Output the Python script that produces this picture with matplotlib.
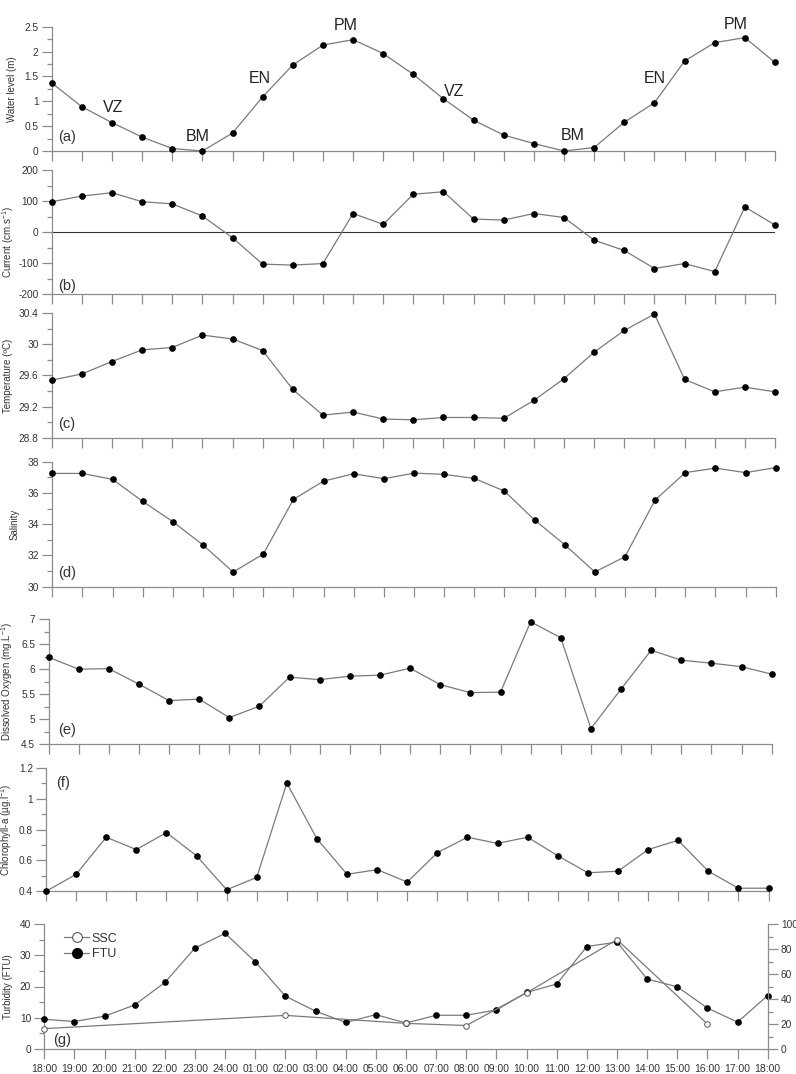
import matplotlib
matplotlib.use('Agg')
import matplotlib.pyplot as plt
from matplotlib.ticker import MultipleLocator, FuncFormatter
from matplotlib.lines import Line2D

hours = ['18:00', '19:00', '20:00', '21:00', '22:00', '23:00', '24:00', '01:00',
         '02:00', '03:00', '04:00', '05:00', '06:00', '07:00', '08:00', '09:00',
         '10:00', '11:00', '12:00', '13:00', '14:00', '15:00', '16:00', '17:00', '18:00']

water_level = [1.37, 0.89, 0.57, 0.28, 0.05, 0.0, 0.36, 1.09, 1.73, 2.13, 2.24, 1.96,
               1.54, 1.05, 0.62, 0.32, 0.15, 0.0, 0.07, 0.58, 0.97, 1.81, 2.18, 2.28, 1.78]
current = [98, 116, 127, 98, 91, 52, -18, -103, -106, -101, 60, 25,
           122, 130, 42, 39, 60, 47, -26, -59, -117, -101, -127, 81, 23]
temperature = [29.54, 29.62, 29.78, 29.93, 29.96, 30.12, 30.07, 29.92, 29.42, 29.09, 29.13, 29.04,
               29.03, 29.06, 29.06, 29.05, 29.28, 29.56, 29.90, 30.18, 30.39, 29.55, 29.39, 29.45, 29.39]
salinity = [37.25, 37.25, 36.87, 35.46, 34.16, 32.67, 30.94, 32.09, 35.59, 36.76, 37.23, 36.91,
            37.27, 37.19, 36.93, 36.12, 34.27, 32.69, 30.94, 31.92, 35.55, 37.30, 37.59, 37.30, 37.62]
oxygen = [6.24, 6.00, 6.01, 5.70, 5.37, 5.40, 5.03, 5.26, 5.84, 5.79, 5.86, 5.88,
          6.02, 5.69, 5.53, 5.54, 6.95, 6.63, 4.81, 5.60, 6.38, 6.18, 6.12, 6.05, 5.90]
chlorophyll = [0.40, 0.51, 0.75, 0.67, 0.78, 0.63, 0.41, 0.49, 1.10, 0.74, 0.51, 0.54,
               0.46, 0.65, 0.75, 0.71, 0.75, 0.63, 0.52, 0.53, 0.67, 0.73, 0.53, 0.42, 0.42]
ftu = [9.5, 8.8, 10.5, 14.1, 21.3, 32.3, 37.0, 27.9, 16.9, 12.1, 8.5, 11.0,
       8.3, 10.8, 10.8, 12.5, 18.1, 20.8, 32.8, 34.2, 22.4, 19.9, 13.1, 8.6, 17.1]
ssc_idx = [0, 8, 12, 14, 16, 19, 22]
ssc = [16.3, 26.9, 20.5, 18.8, 45.0, 87.5, 20.0]

tide_labels = ['VZ', 'BM', 'EN', 'PM', 'VZ', 'BM', 'EN', 'PM']
tide_label_x = [2.05, 4.85, 6.9, 9.75, 13.35, 17.3, 20.0, 22.7]
tide_label_y = [0.88, 0.30, 1.45, 2.52, 1.20, 0.32, 1.45, 2.54]

plt.rcParams['font.family'] = ['Liberation Sans', 'DejaVu Sans']
plt.rcParams['mathtext.default'] = 'regular'
plt.rcParams['axes.unicode_minus'] = False

W, H = 796, 1074
fig = plt.figure(figsize=(W / 100, H / 100), dpi=100)

AX_COL = '#8c8c8c'
LINE_COL = '#7a7a7a'
TXT_COL = '#333333'
x = list(range(len(hours)))


def panel(l, t, r, b, ylo, yhi, major, minor, ylabel, lab_right, lab_y, tag, tag_y):
    ax = fig.add_axes([l / W, 1 - b / H, (r - l) / W, (b - t) / H])
    for s in ['top', 'right']:
        ax.spines[s].set_visible(False)
    for s in ['left', 'bottom']:
        ax.spines[s].set_color(AX_COL)
        ax.spines[s].set_linewidth(0.9)
    ax.set_xlim(0, 24)
    ax.set_ylim(ylo, yhi)
    ax.set_xticks(x)
    ax.set_xticklabels([])
    ax.yaxis.set_major_locator(MultipleLocator(major))
    ax.yaxis.set_minor_locator(MultipleLocator(minor))
    ax.yaxis.set_major_formatter(FuncFormatter(lambda v, p: '%g' % round(v, 6)))
    ax.tick_params(axis='both', which='major', direction='out', length=7.5, width=0.9,
                   color=AX_COL, labelsize=7.3, labelcolor=TXT_COL, pad=2)
    ax.tick_params(axis='y', which='minor', direction='out', length=3.8, width=0.9, color=AX_COL)
    ax.tick_params(axis='x', which='minor', bottom=False)
    ax.set_ylabel(ylabel, fontsize=7, color=TXT_COL)
    ax.yaxis.set_label_coords(-(l - lab_right) / (r - l), lab_y)
    ax.text((tag[1] - l) / (r - l), 1 - (tag_y - t) / (b - t), tag[0], transform=ax.transAxes,
            fontsize=10.5, color=TXT_COL, ha='center', va='center')
    return ax


def series(ax, vals):
    ax.plot(x, vals, color=LINE_COL, lw=0.9, marker='o', ms=3.8, mfc='black', mec='black',
            clip_on=False, zorder=3)


# (a) water level
ax = panel(51.7, 26.7, 775, 151, 0, 2.5, 0.5, 0.25, 'Water level (m)', 17, 0.5, ('(a)', 67), 137)
series(ax, water_level)
for lab, tx, ty in zip(tide_labels, tide_label_x, tide_label_y):
    ax.text(tx, ty, lab, fontsize=11.5, color='#222222', ha='center', va='center')

# (b) current
ax = panel(51.7, 170, 775, 294.3, -200, 200, 100, 50, 'Current (cm.s$^{-1}$)', 15.5, 0.42,
           ('(b)', 67), 286)
ax.axhline(0, color='#333333', lw=0.8, zorder=1)
series(ax, current)

# (c) temperature
ax = panel(51.7, 313.3, 775, 437.7, 28.8, 30.4, 0.4, 0.2, 'Temperature (ºC)', 12.5, 0.5,
           ('(c)', 67), 424)
series(ax, temperature)

# (d) salinity
ax = panel(52.3, 461.7, 775.7, 586.7, 30, 38, 2, 1, 'Salinity', 20, 0.5, ('(d)', 67), 573)
series(ax, salinity)

# (e) dissolved oxygen
ax = panel(48.5, 619.3, 771.7, 744, 4.5, 7, 0.5, 0.25, 'Dissolved Oxygen (mg.L$^{-1}$)', 15.5, 0.5,
           ('(e)', 67), 730)
series(ax, oxygen)

# (f) chlorophyll
ax = panel(46, 767.7, 768.5, 891.3, 0.4, 1.2, 0.2, 0.1, 'Chlorophyll-a (µg.l$^{-1}$)', 14.5, 0.5,
           ('(f)', 63), 783)
series(ax, chlorophyll)

# (g) turbidity + SSC
ax = panel(44.3, 924, 767.7, 1049, 0, 40, 10, 5, 'Turbidity (FTU)', 13, 0.5, ('(g)', 62), 1040)
series(ax, ftu)
ax.set_xticklabels(hours, fontsize=7.5)
ax.tick_params(axis='x', pad=3)

ax2 = ax.twinx()
ax2.set_ylim(0, 100)
for s in ['top', 'left', 'bottom']:
    ax2.spines[s].set_visible(False)
ax2.spines['right'].set_color(AX_COL)
ax2.spines['right'].set_linewidth(0.9)
ax2.yaxis.set_major_locator(MultipleLocator(20))
ax2.yaxis.set_minor_locator(MultipleLocator(10))
ax2.tick_params(axis='y', which='major', direction='out', length=7.5, width=0.9,
                color=AX_COL, labelsize=7.3, labelcolor=TXT_COL, pad=2)
ax2.tick_params(axis='y', which='minor', direction='out', length=3.8, width=0.9, color=AX_COL)
ax2.plot(ssc_idx, ssc, color=LINE_COL, lw=0.9, marker='o', ms=4, mfc='white', mec='#555555',
         mew=0.7, clip_on=False, zorder=2)

handles = [Line2D([], [], color=LINE_COL, lw=0.9, marker='o', ms=7, mfc='white', mec='#555555', mew=0.8),
           Line2D([], [], color=LINE_COL, lw=0.9, marker='o', ms=7, mfc='black', mec='black')]
ax.legend(handles, ['SSC', 'FTU'], loc='upper left', bbox_to_anchor=(0.012, 1.02), frameon=False,
          fontsize=9, handlelength=2.0, handletextpad=0.2, labelspacing=0.25, labelcolor=TXT_COL)

plt.savefig('out.png', dpi=100)
